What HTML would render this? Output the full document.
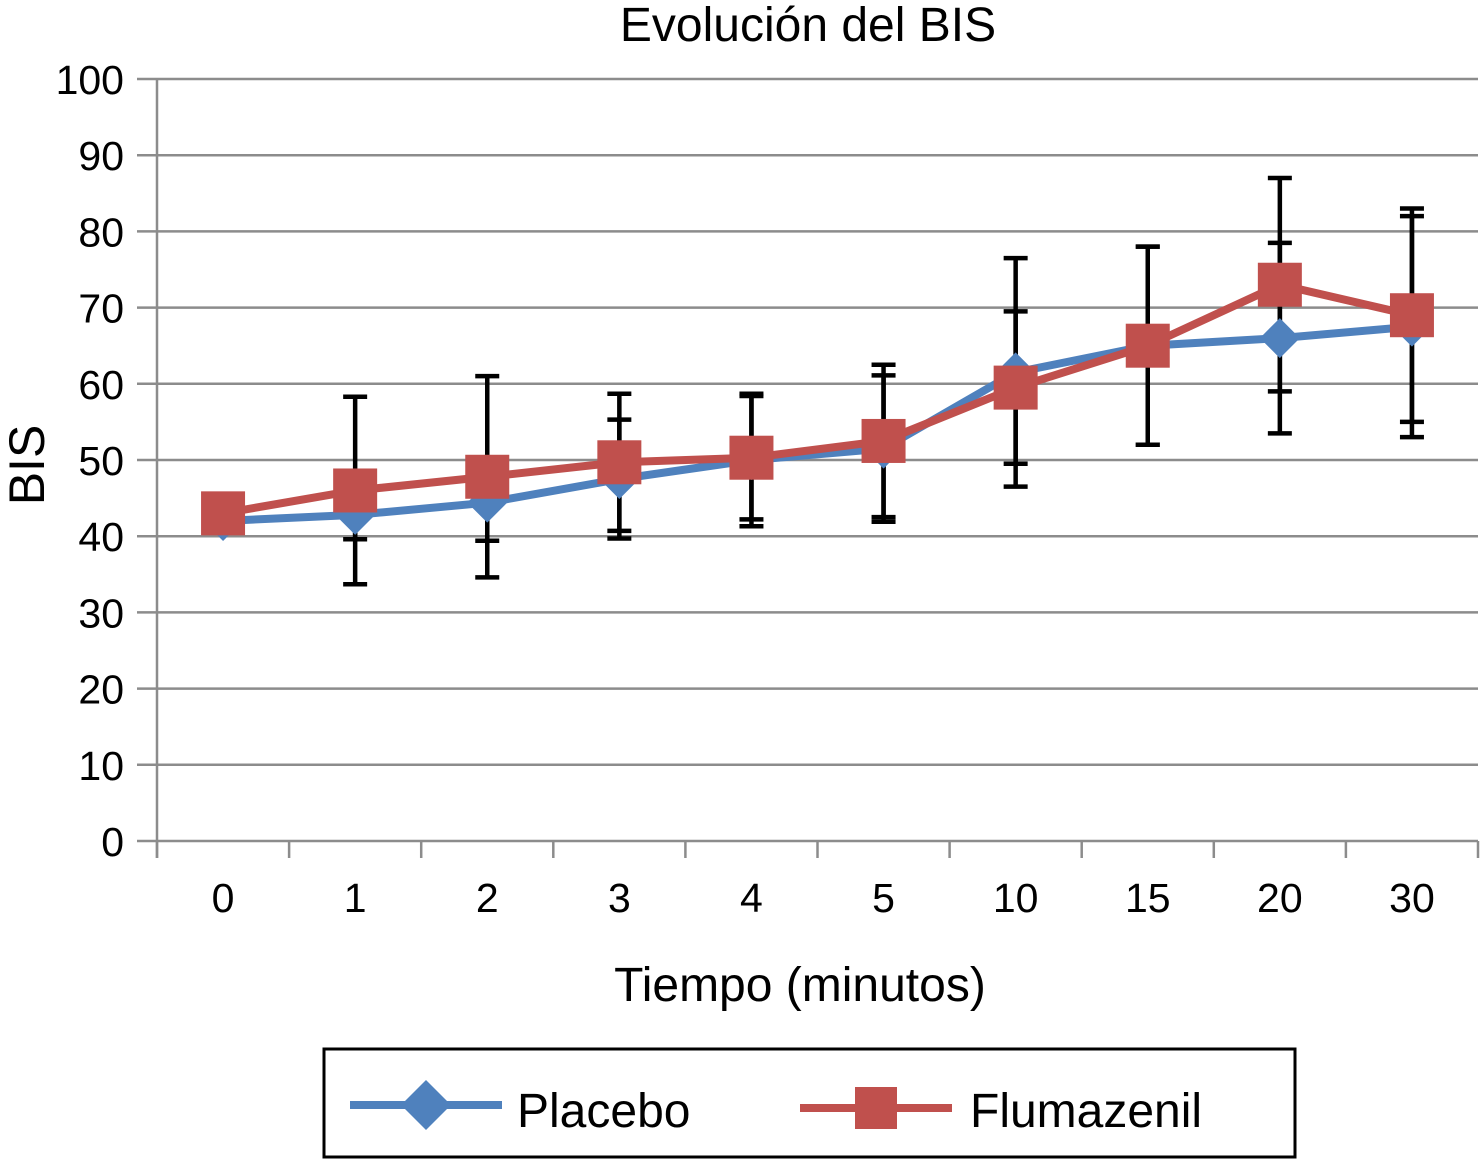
<!DOCTYPE html>
<html><head><meta charset="utf-8"><style>
html,body{margin:0;padding:0;background:#fff;}
svg{display:block;font-family:"Liberation Sans",Arial,sans-serif;}
</style></head><body>
<svg id="chart" width="1480" height="1161" viewBox="0 0 1480 1161">
<text x="808" y="41" font-size="48" text-anchor="middle">Evolución del BIS</text>
<g id="grid"></g><g id="axes"></g><g id="errs"></g><g id="series"></g>
<text transform="translate(44,465) rotate(-90)" font-size="50" text-anchor="middle">BIS</text>
<text x="800" y="1001" font-size="48" text-anchor="middle">Tiempo (minutos)</text>
<g>
<rect x="324" y="1049" width="971" height="108" fill="#fff" stroke="#000" stroke-width="3"/>
<line x1="350" y1="1105" x2="502" y2="1105" stroke="#4f81bd" stroke-width="8"/>
<polygon points="426,1080 451,1105 426,1130 401,1105" fill="#4f81bd"/>
<text x="517" y="1127" font-size="48">Placebo</text>
<line x1="800" y1="1108" x2="952" y2="1108" stroke="#c0504d" stroke-width="8"/>
<rect x="855" y="1087" width="42" height="42" fill="#c0504d"/>
<text x="970" y="1127" font-size="48">Flumazenil</text>
</g>
</svg>
<script>
const categories=["0","1","2","3","4","5","10","15","20","30"];
const placebo=[42,42.8,44.4,47.5,50,51.5,61.5,65,66,67.5];
const flumazenil=[43,46,47.8,49.7,50.3,52.5,59.5,65,73,69];
const placeboSD=[0,3.2,5,7.8,8.7,9.6,15,13,12.5,14.5];
const flumazenilSD=[0,12.3,13.2,9,8.1,10,10,13,14,14];
const yTicks=[0,10,20,30,40,50,60,70,80,90,100];
const NS="http://www.w3.org/2000/svg";
const L=157,R=1478,T=79,B=841;
const step=(R-L)/categories.length;
const xs=i=>L+step*(i+0.5);
const ys=v=>B-(v/100)*(B-T);
function mk(tag,attrs,parent){const e=document.createElementNS(NS,tag);for(const k in attrs)e.setAttribute(k,attrs[k]);document.getElementById(parent).appendChild(e);return e;}
yTicks.forEach(v=>{
 const g=mk("line",{x1:137,x2:R,y1:ys(v),y2:ys(v),stroke:"#8c8c8c","stroke-width":2.5},"grid");
 
 
 const t=mk("text",{x:124,y:ys(v)+15,"font-size":41,"text-anchor":"end"},"axes");t.textContent=v;
 
 
});
mk("line",{x1:L,x2:L,y1:T,y2:858,stroke:"#8c8c8c","stroke-width":2.5},"axes");
for(let i=0;i<=categories.length;i++){mk("line",{x1:L+step*i,x2:L+step*i,y1:B,y2:858,stroke:"#8c8c8c","stroke-width":2.5},"axes");}
categories.forEach((c,i)=>{const t=mk("text",{x:xs(i),y:912,"font-size":41,"text-anchor":"middle"},"axes");t.textContent=c;
 
 });
function errs(vals,sd,name){vals.forEach((v,i)=>{if(!sd[i])return;const x=xs(i);
 const g=mk("path",{d:`M${x},${ys(v+sd[i])}V${ys(v-sd[i])}M${x-12},${ys(v+sd[i])}H${x+12}M${x-12},${ys(v-sd[i])}H${x+12}`,stroke:"#000","stroke-width":4.5,fill:"none"},"errs");
 
 });}
errs(placebo,placeboSD,"placebo");errs(flumazenil,flumazenilSD,"flumazenil");
function line(vals,color,name){const p=mk("polyline",{points:vals.map((v,i)=>xs(i)+","+ys(v)).join(" "),fill:"none",stroke:color,"stroke-width":8},"series");
 
 }
line(placebo,"#4f81bd","placebo");
placebo.forEach((v,i)=>{const x=xs(i),y=ys(v);const m=mk("polygon",{points:`${x},${y-20} ${x+20},${y} ${x},${y+20} ${x-20},${y}`,fill:"#4f81bd"},"series");
 
 });
line(flumazenil,"#c0504d","flumazenil");
flumazenil.forEach((v,i)=>{const x=xs(i),y=ys(v);const m=mk("rect",{x:x-22,y:y-22,width:44,height:44,fill:"#c0504d"},"series");
 
 });
</script>
</body></html>
